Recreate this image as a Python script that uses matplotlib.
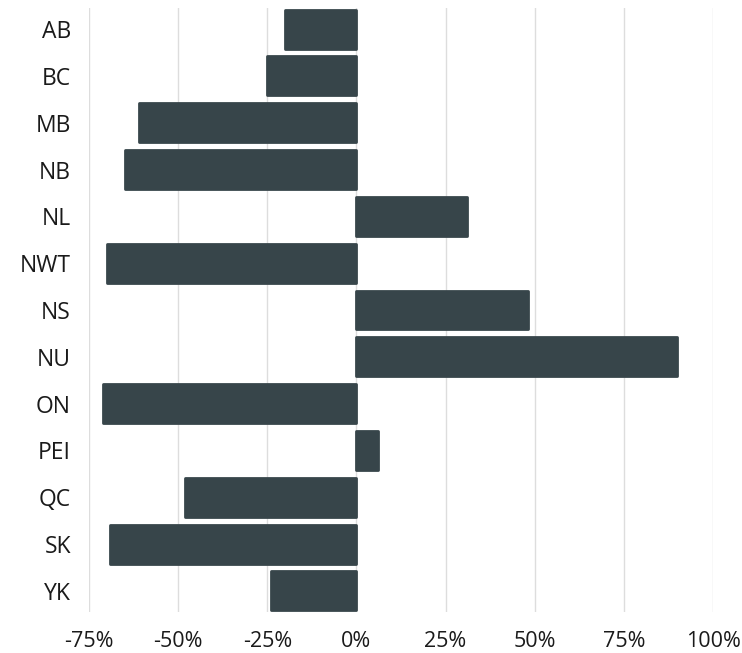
import matplotlib.pyplot as plt
from matplotlib.ticker import FuncFormatter

# Province / territory change values (percent)
regions = ['AB', 'BC', 'MB', 'NB', 'NL', 'NWT', 'NS', 'NU', 'ON', 'PEI', 'QC', 'SK', 'YK']
change = [-20, -25, -61, -65, 31, -70, 48, 90, -71, 6, -48, -69, -24]
xticks = [-75, -50, -25, 0, 25, 50, 75, 100]

bar_color = '#37454a'

plt.rcParams['font.family'] = ['Open Sans', 'DejaVu Sans']

fig = plt.figure(figsize=(7.42, 6.53), dpi=100)
ax = fig.add_axes([89 / 742, 1 - 612 / 653, (713 - 89) / 742, (612 - 8) / 653])

ax.barh(range(len(regions)), change, height=0.83, color=bar_color,
        edgecolor=bar_color, linewidth=2, joinstyle='round', zorder=3)

ax.set_xlim(-75, 100)
ax.set_ylim(len(regions) - 1 + 0.45, -0.45)
ax.set_xticks(xticks)
ax.xaxis.set_major_formatter(FuncFormatter(lambda v, p: f'{v:.0f}%'))
ax.set_yticks(range(len(regions)))
ax.set_yticklabels(regions)

ax.grid(axis='x', color='#dddddd', linewidth=1, zorder=0)
for s in ax.spines.values():
    s.set_visible(False)
ax.tick_params(axis='both', length=0, colors='#1a1a1a')
ax.tick_params(axis='x', labelsize=15.5, pad=14)
ax.tick_params(axis='y', labelsize=16.5, pad=13)

fig.savefig('out.png', dpi=100)
